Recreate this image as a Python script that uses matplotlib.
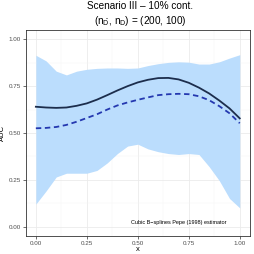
import matplotlib
matplotlib.use("Agg")
import matplotlib.pyplot as plt
import numpy as np

plt.rcParams['font.family'] = ['Liberation Sans', 'DejaVu Sans']
plt.rcParams['mathtext.fontset'] = 'custom'
plt.rcParams['mathtext.rm'] = 'Liberation Sans'
plt.rcParams['mathtext.it'] = 'Liberation Sans'

# band grid
x_band = [0.00, 0.05, 0.10, 0.15, 0.20, 0.25, 0.30, 0.35, 0.40, 0.45, 0.50,
          0.55, 0.60, 0.65, 0.70, 0.75, 0.80, 0.85, 0.90, 0.95, 1.00]
lower = [0.12, 0.19, 0.265, 0.285, 0.285, 0.285, 0.30, 0.34, 0.39, 0.43, 0.44,
         0.415, 0.40, 0.39, 0.385, 0.39, 0.385, 0.32, 0.245, 0.15, 0.10]
upper = [0.915, 0.885, 0.83, 0.81, 0.83, 0.84, 0.845, 0.847, 0.847, 0.845, 0.847,
         0.86, 0.87, 0.877, 0.88, 0.878, 0.868, 0.868, 0.88, 0.90, 0.918]

# curves
x_line = [0.00, 0.05, 0.10, 0.15, 0.20, 0.25, 0.30, 0.35, 0.40, 0.45, 0.50,
          0.55, 0.60, 0.65, 0.70, 0.75, 0.80, 0.85, 0.90, 0.95, 1.00]
true_auc = [0.640, 0.636, 0.634, 0.636, 0.645, 0.658, 0.678, 0.702, 0.727, 0.750, 0.770,
            0.784, 0.793, 0.794, 0.786, 0.768, 0.742, 0.711, 0.673, 0.631, 0.578]
est_auc = [0.525, 0.527, 0.532, 0.543, 0.560, 0.580, 0.600, 0.625, 0.647, 0.663, 0.677,
           0.690, 0.702, 0.707, 0.709, 0.707, 0.696, 0.675, 0.643, 0.605, 0.552]

fig = plt.figure(figsize=(2.54, 2.54), dpi=100)
ax = fig.add_axes([0.101, 0.071, 0.883, 0.811])

ax.fill_between(x_band, lower, upper, color='#BBDDFD', lw=0)
ax.plot(x_line, true_auc, color='#1C2D4C', lw=1.3)
ax.plot(x_line, est_auc, color='#2438B0', lw=1.3, ls=(0, (3, 2)))

ax.set_xlim(-0.05, 1.05)
ax.set_ylim(-0.05, 1.05)
ticks = [0.0, 0.25, 0.5, 0.75, 1.0]
ax.set_xticks(ticks)
ax.set_yticks(ticks)
ax.set_xticklabels(['0.00', '0.25', '0.50', '0.75', '1.00'])
ax.set_yticklabels(['0.00', '0.25', '0.50', '0.75', '1.00'])
ax.set_xticks([0.125, 0.375, 0.625, 0.875], minor=True)
ax.set_yticks([0.125, 0.375, 0.625, 0.875], minor=True)
ax.grid(which='major', color='#EBEBEB', lw=0.6)
ax.grid(which='minor', color='#F4F4F4', lw=0.35)
ax.set_axisbelow(True)
ax.tick_params(which='major', length=2, width=0.5, color='#333333',
               labelsize=4.5, labelcolor='#4D4D4D', pad=1.5)
ax.tick_params(which='minor', length=0)
for s in ax.spines.values():
    s.set_color('#333333')
    s.set_linewidth(0.6)

ax.set_xlabel('x', fontsize=5.5, labelpad=0)
ax.set_ylabel('AUC', fontsize=5.5, labelpad=2)

ax.text(0.70, 0.023, 'Cubic B\u2212splines Pepe (1998) estimator', fontsize=4,
        ha='center', va='center', color='black')

fig.text(0.553, 0.975, 'Scenario III \u2013 10% cont.', fontsize=7.2, ha='center', va='center')
fig.text(0.553, 0.919, r'$(n_{\bar{D}},\, n_{D})$ = (200, 100)', fontsize=7.2,
         ha='center', va='center')

fig.savefig('out.png', dpi=100)
